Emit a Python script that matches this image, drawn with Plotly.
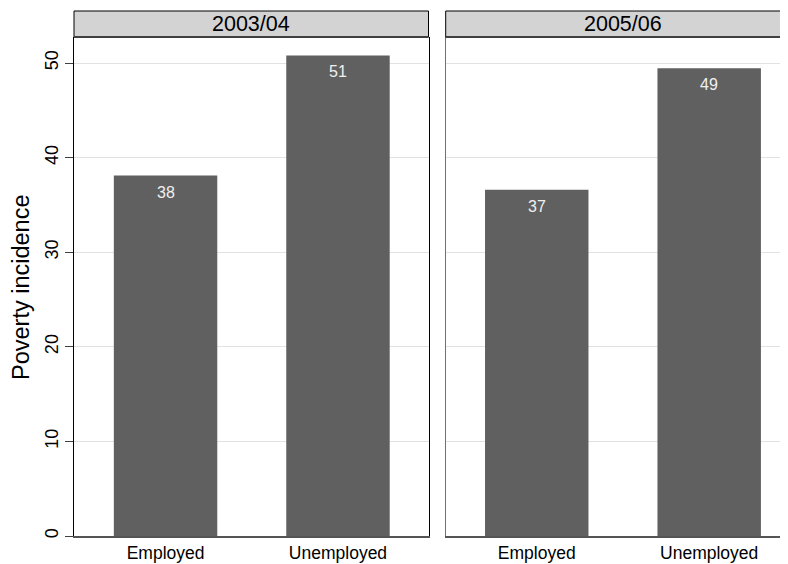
import plotly.graph_objects as go
from plotly.subplots import make_subplots

# data
periods = ["2003/04", "2005/06"]
status = ["Employed", "Unemployed"]
incidence_0304 = [38.1, 50.8]
incidence_0506 = [36.6, 49.45]
y_ticks = [0, 10, 20, 30, 40, 50]

# the page body has an 8px margin, so size the figure to fit the window
OFF = 8
W, H = 788 - OFF, 564 - OFF
font = "Liberation Sans, Arial, sans-serif"
bar_color = "#606060"


def px_x(x):
    return (x - OFF) / W


def px_y(y):
    return 1 - (y - OFF) / H


fig = make_subplots(rows=1, cols=2)

for i, vals in enumerate([incidence_0304, incidence_0506]):
    fig.add_trace(go.Bar(x=status, y=vals, width=0.6, marker_color=bar_color,
                         marker_line_width=0, showlegend=False), row=1, col=i + 1)
    # value labels inside the top of each bar
    for s, v in zip(status, vals):
        fig.add_annotation(x=s, y=v, text=f"{v:.0f}", showarrow=False, yanchor="top",
                           yshift=-6, font=dict(size=16, color="#f0f0f0"),
                           xref="x2" if i else "x", yref="y2" if i else "y")

# panel geometry (paper coords)
dom1 = [px_x(74), px_x(428.5)]
dom2 = [px_x(445.7), 1.0]
ydom = [px_y(536), px_y(37)]

fig.update_layout(
    width=W, height=H, margin=dict(l=0, r=0, t=0, b=0),
    plot_bgcolor="white", paper_bgcolor="white",
    font=dict(family=font, color="black"),
    xaxis=dict(domain=dom1, range=[-0.531, 1.525]),
    xaxis2=dict(domain=dom2, range=[-0.528, 1.457]),
    yaxis=dict(domain=ydom, range=[0, 52.75], showline=True, linecolor="black", linewidth=1,
               mirror=True, ticks="outside", ticklen=8, tickcolor="#404040",
               tickvals=y_ticks, tickangle=-90, tickfont=dict(size=18)),
    yaxis2=dict(domain=ydom, range=[0, 52.75], showline=True, linecolor="#707070", linewidth=1,
                tickvals=y_ticks, showticklabels=False, ticks=""),
)
fig.update_xaxes(showline=True, linecolor="#555555", linewidth=2, ticks="", showgrid=False,
                 tickfont=dict(size=17.5), automargin=False)
fig.update_yaxes(showgrid=True, gridcolor="#e2e2e2", gridwidth=1, zeroline=False, automargin=False)

# header strips
headers = [(74, 428.5), (445.7, 800)]
for (x0, x1), label in zip(headers, periods):
    fig.add_shape(type="rect", xref="paper", yref="paper", x0=px_x(x0), x1=px_x(x1),
                  y0=px_y(37), y1=px_y(11), fillcolor="#d3d3d3", line=dict(color="black", width=1))
    fig.add_shape(type="line", xref="paper", yref="paper", x0=px_x(x0), x1=px_x(x1),
                  y0=px_y(37), y1=px_y(37), line=dict(color="#404040", width=2))
    fig.add_annotation(xref="paper", yref="paper", x=px_x((x0 + x1) / 2), y=px_y(24),
                       text=label, showarrow=False, font=dict(size=21.5),
                       xanchor="center", yanchor="middle")

# y title
fig.add_annotation(xref="paper", yref="paper", x=px_x(21), y=px_y(287), text="Poverty incidence",
                   textangle=-90, showarrow=False, font=dict(size=23.5),
                   xanchor="center", yanchor="middle")

fig.write_html("out.html")
